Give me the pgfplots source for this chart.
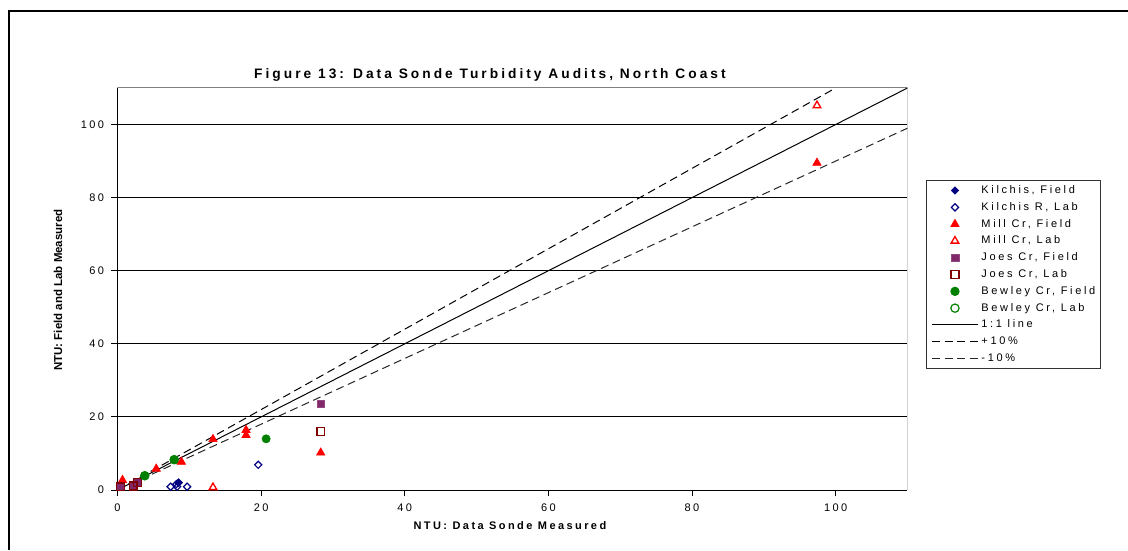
\documentclass[border=0pt]{standalone}
\usepackage{pgfplots}
\pgfplotsset{compat=1.18}
\usepackage{fontspec}
\setmainfont{Liberation Sans}
\newfontfamily\lsfont[LetterSpace=22]{Liberation Sans}
\newfontfamily\lgfont[LetterSpace=24]{Liberation Sans}
\definecolor{navyk}{RGB}{0,0,128}
\definecolor{plum}{RGB}{128,40,106}
\definecolor{dred}{RGB}{128,0,0}
\definecolor{dgreen}{RGB}{0,128,0}
\begin{document}
\begin{tikzpicture}
\path[use as bounding box] (0,0) rectangle (846pt,412.5pt);
\draw[line width=1.5pt] (6.75pt,0pt) -- (6.75pt,404.25pt) -- (846pt,404.25pt);
\begin{axis}[
  at={(88.1pt,45pt)}, anchor=south west,
  scale only axis, width=592.5pt, height=301.5pt,
  xmin=0, xmax=110, ymin=0, ymax=110,
  xtick={0,20,...,100}, ytick={0,20,...,100},
  axis x line*=bottom, axis y line*=left,
  axis line style={black, line width=0.75pt, -},
  tick align=outside, major tick length=4.5pt,
  tick style={black, line width=0.75pt},
  ymajorgrids, grid style={black, line width=0.75pt},
  /pgf/number format/assume math mode=true,
  tick label style={font=\lsfont\fontsize{8.25}{10}\selectfont},
  xticklabel style={yshift=-2.2pt},
  yticklabel style={xshift=-2pt},
  title={\lsfont\bfseries\fontsize{10.3}{12}\selectfont Figure 13: Data Sonde Turbidity Audits, North Coast},
  title style={at={(axis description cs:0.4715,1.012)}, anchor=center, inner sep=0pt},
  xlabel={\lsfont\bfseries\fontsize{8.25}{10}\selectfont NTU: Data Sonde Measured},
  xlabel style={at={(axis description cs:0.4968,-0.0896)}, anchor=center, inner sep=0pt},
  ylabel={\bfseries\fontsize{8.6}{10}\selectfont NTU: Field and Lab Measured},
  ylabel style={at={(axis description cs:-0.0753,0.4975)}, anchor=center, rotate=0, inner sep=0pt},
  legend cell align=left,
  legend image code/.code={\draw[mark repeat=2,mark phase=2,#1] plot coordinates {(0pt,0pt) (17.25pt,0pt) (34.5pt,0pt)};},
  legend style={at={(axis description cs:1.0234,0.771)}, anchor=north west,
    draw=black!80, line width=0.75pt, inner xsep=3.75pt, inner ysep=3.25pt,
    row sep=4.1pt, column sep=2.25pt,
    font=\lgfont\fontsize{8.25}{10}\selectfont,
    nodes={inner sep=0pt, text height=6.5pt, text depth=2pt}},
]
\draw[gray, line width=0.75pt] (rel axis cs:0,1) -- (rel axis cs:1,1) -- (rel axis cs:1,0);
% Kilchis Field
\addplot[only marks, mark=square*, mark size=1.9pt, mark options={rotate=45, fill=navyk, draw=navyk, line width=0.6pt}]
  coordinates {(8.5,2.0)};
\addlegendentry{Kilchis, Field}
% Kilchis R Lab
\addplot[only marks, mark=square, mark size=1.9pt, mark options={rotate=45, draw=navyk, line width=0.9pt}]
  coordinates {(7.4,0.9) (8.2,1.6) (8.5,2.0) (8.3,0.9) (9.7,0.9) (19.6,6.9)};
\addlegendentry{Kilchis R, Lab}
% Mill Cr Field
\addplot[only marks, mark=triangle*, mark size=3.6pt, mark options={fill=red, draw=red, line width=0.5pt}]
  coordinates {(0.7,2.7) (5.4,5.8) (8.9,7.7) (13.3,13.9) (17.9,16.4) (17.9,15.0) (28.3,10.2) (97.4,89.5)};
\addlegendentry{Mill Cr, Field}
% Mill Cr Lab
\addplot[only marks, mark=triangle, mark size=3.3pt, mark options={draw=red, line width=1pt}]
  coordinates {(13.3,0.7) (97.4,105.2)};
\addlegendentry{Mill Cr, Lab}
% Joes Cr Field
\addplot[only marks, mark=square*, mark size=2.9pt, mark options={fill=plum, draw=plum!85!white, line width=0.5pt}]
  coordinates {(0.4,0.9) (2.2,1.1) (2.8,2.0) (28.3,23.6)};
\addlegendentry{Joes Cr, Field}
% Joes Cr Lab
\addplot[only marks, mark=square, mark size=2.9pt, mark options={draw=dred, line width=1pt}]
  coordinates {(0.4,0.9) (2.2,1.1) (2.8,2.0) (28.3,16.0)};
\addlegendentry{Joes Cr, Lab}
% Bewley Cr Field
\addplot[only marks, mark=*, mark size=3.1pt, mark options={fill=dgreen, draw=dgreen}]
  coordinates {(3.8,3.9) (7.9,8.3) (20.7,14.0)};
\addlegendentry{Bewley Cr, Field}
% Bewley Cr Lab
\addplot[only marks, mark=o, mark size=3.1pt, mark options={draw=dgreen, line width=0.9pt}]
  coordinates {(3.8,3.9) (7.9,8.3)};
\addlegendentry{Bewley Cr, Lab}
% lines
\addplot[black, line width=0.75pt, mark=none] coordinates {(0,0) (110,110)};
\addlegendentry{1:1 line}
\addplot[black, line width=0.75pt, mark=none, dash pattern=on 6pt off 3.5pt] coordinates {(0,0) (100,110)};
\addlegendentry{+10\%}
\addplot[black!85, line width=0.75pt, mark=none, dash pattern=on 6pt off 3.5pt] coordinates {(0,0) (110,99)};
\addlegendentry{-10\%}
\end{axis}
\end{tikzpicture}
\end{document}
